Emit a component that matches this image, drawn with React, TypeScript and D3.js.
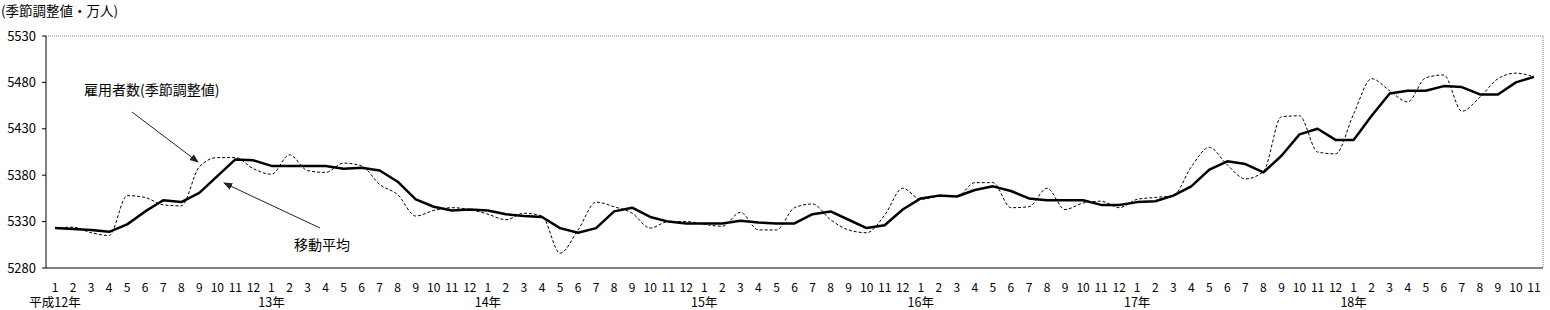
import React from "react";
import * as d3 from "d3";

const monthLabels: string[] = [];
const years = ["平成12年", "13年", "14年", "15年", "16年", "17年", "18年"];
for (let y = 0; y < 7; y++) {
  for (let m = 1; m <= 12; m++) {
    if (y === 6 && m > 11) break;
    monthLabels.push(String(m));
  }
}

const seasonal = [
  5323, 5324, 5318, 5315, 5358, 5356, 5348, 5347, 5389, 5399, 5399, 5387,
  5381, 5402, 5385, 5383, 5393, 5390, 5370, 5359, 5336, 5342, 5345, 5343,
  5338, 5332, 5339, 5336, 5296, 5321, 5351, 5346, 5339, 5323, 5330, 5330,
  5327, 5325, 5340, 5321, 5321, 5345, 5349, 5332, 5321, 5318, 5337, 5366,
  5354, 5357, 5357, 5372, 5372, 5345, 5346, 5366, 5343, 5350, 5352, 5345,
  5354, 5356, 5358, 5389, 5410, 5391, 5376, 5384, 5443, 5444, 5405, 5403,
  5446, 5484, 5471, 5459, 5485, 5488, 5449, 5464, 5484, 5490, 5486,
];

const movingAvg = [
  5323, 5322, 5321, 5319, 5327, 5341, 5353, 5351, 5361, 5379, 5397, 5396,
  5390, 5390, 5390, 5390, 5387, 5388, 5385, 5373, 5354, 5346, 5342, 5343,
  5342, 5338, 5336, 5335, 5323, 5318, 5323, 5341, 5345, 5335, 5330, 5328,
  5328, 5328, 5331, 5329, 5328, 5328, 5338, 5341, 5332, 5323, 5326, 5343,
  5355, 5358, 5357, 5364, 5368, 5363, 5355, 5353, 5353, 5353, 5348, 5348,
  5351, 5352, 5358, 5368, 5386, 5395, 5392, 5383, 5401, 5424, 5430, 5418,
  5418, 5444, 5468, 5471, 5471, 5476, 5475, 5467, 5467, 5480, 5486,
];

const yTicks = [5280, 5330, 5380, 5430, 5480, 5530];

const FONT = '"Noto Sans CJK JP", "Noto Sans", sans-serif';

export default function App() {
  const W = 1550;
  const H = 310;
  const left = 46;
  const right = 1543;
  const top = 36;
  const bottom = 268;

  const idx = monthLabels.map((_, i) => i);
  const x = d3.scaleBand<number>().domain(idx).range([left, right]).padding(0);
  const cx = (i: number) => (x(i) as number) + x.bandwidth() / 2;
  const y = d3.scaleLinear().domain([5280, 5530]).range([bottom, top]);

  const dashedLine = d3
    .line<number>()
    .x((_, i) => cx(i))
    .y((d) => y(d))
    .curve(d3.curveMonotoneX);
  const solidLine = d3
    .line<number>()
    .x((_, i) => cx(i))
    .y((d) => y(d));

  return (
    <svg
      width={W}
      height={H}
      style={{ position: "absolute", left: 0, top: 0, background: "#fff" }}
      fontFamily={FONT}
    >
      <defs>
        <marker
          id="arr"
          viewBox="0 0 10 10"
          refX="9"
          refY="5"
          markerWidth="9"
          markerHeight="9"
          orient="auto"
          markerUnits="userSpaceOnUse"
        >
          <path d="M0,1 L10,5 L0,9 Z" fill="#222" />
        </marker>
      </defs>
      <rect x={0} y={0} width={W} height={H} fill="#fff" />
      <text x={1} y={16} fontSize={13.5} fill="#000">
        (季節調整値・万人)
      </text>

      {/* frame */}
      <line x1={left} y1={top} x2={right} y2={top} stroke="#808080" strokeDasharray="1 1" />
      <line x1={right} y1={top} x2={right} y2={bottom} stroke="#808080" strokeDasharray="1 1" />
      <line x1={left} y1={top} x2={left} y2={bottom} stroke="#000" />
      <line x1={left} y1={bottom} x2={right} y2={bottom} stroke="#000" />

      {yTicks.map((t) => (
        <g key={t}>
          <line x1={left - 4} x2={left} y1={y(t)} y2={y(t)} stroke="#000" />
          <text x={36} y={y(t)} dy="0.35em" textAnchor="end" fontSize={13} fill="#000">
            {t}
          </text>
        </g>
      ))}

      {monthLabels.map((m, i) => (
        <text key={i} x={cx(i)} y={292} textAnchor="middle" fontSize={12} fill="#000">
          {m}
        </text>
      ))}
      {years.map((yl, j) => (
        <text key={yl} x={cx(j * 12)} y={307} textAnchor="middle" fontSize={12.5} fill="#000">
          {yl}
        </text>
      ))}

      <path
        d={dashedLine(seasonal) || ""}
        fill="none"
        stroke="#000"
        strokeWidth={1}
        strokeDasharray="3 2"
      />
      <path d={solidLine(movingAvg) || ""} fill="none" stroke="#000" strokeWidth={2.5} strokeLinejoin="round" />

      <text x={84} y={95} fontSize={14} fill="#000">
        雇用者数(季節調整値)
      </text>
      <line x1={132} y1={112} x2={198} y2={162} stroke="#222" strokeWidth={1} markerEnd="url(#arr)" />

      <text x={294} y={250} fontSize={14} fill="#000">
        移動平均
      </text>
      <line x1={320} y1={228} x2={224} y2={183} stroke="#222" strokeWidth={1} markerEnd="url(#arr)" />
    </svg>
  );
}
